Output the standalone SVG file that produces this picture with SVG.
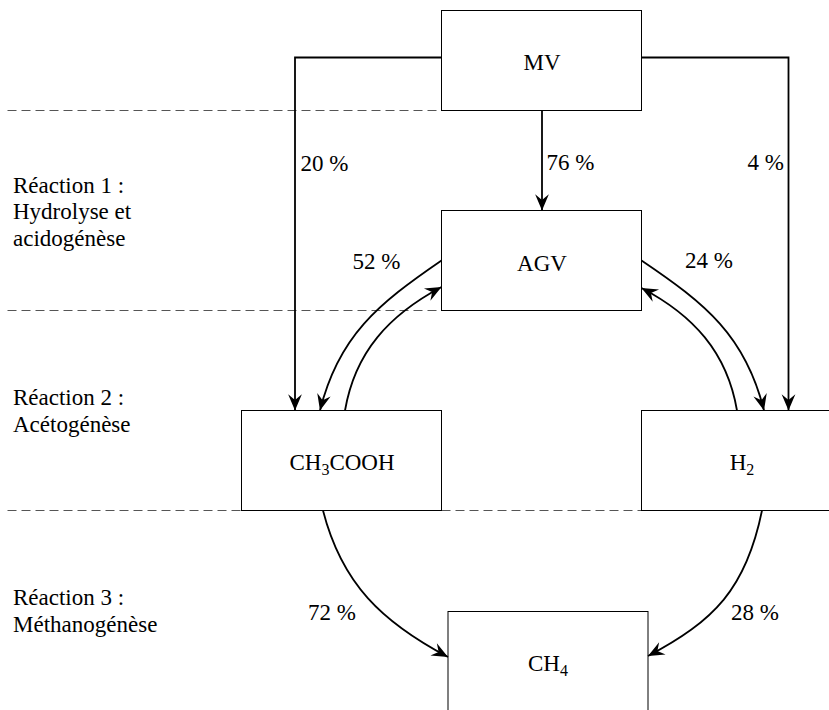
<svg xmlns="http://www.w3.org/2000/svg" width="829" height="710" viewBox="0 0 829 710">
<defs>
<marker id="ah" markerUnits="userSpaceOnUse" markerWidth="20" markerHeight="20" viewBox="-14 -7 16 14" refX="0" refY="0" orient="auto">
<path d="M0,0 L-13,-5.5 L-8.5,0 L-13,5.5 Z" fill="#000"/>
</marker>
</defs>
<style>
.box{fill:#fff;stroke:#000;stroke-width:1}
.t{font-family:"Liberation Serif","Times New Roman",serif;font-size:23px;fill:#000}
.c{text-anchor:middle}
.e{text-anchor:end}
.sub{font-size:16px}
.dash{stroke:#555;stroke-width:1;stroke-dasharray:9 5;fill:none}
.con{fill:none;stroke:#000;stroke-width:1.8;marker-end:url(#ah)}
</style>
<g id="separators">
<line class="dash" x1="7.5" y1="110.5" x2="441.5" y2="110.5"/>
<line class="dash" x1="7.5" y1="310.5" x2="441.5" y2="310.5"/>
<line class="dash" x1="7.5" y1="510.5" x2="829" y2="510.5"/>
</g>
<g id="stage-labels">
<text class="t" x="13" y="192.5">Réaction 1 :</text>
<text class="t" x="13" y="219.3">Hydrolyse et</text>
<text class="t" x="13" y="246">acidogénèse</text>
<text class="t" x="13" y="405.4">Réaction 2 :</text>
<text class="t" x="13" y="432">Acétogénèse</text>
<text class="t" x="13" y="605.3">Réaction 3 :</text>
<text class="t" x="13" y="632">Méthanogénèse</text>
</g>
<g id="node-MV">
<rect class="box" x="441.5" y="10.5" width="200" height="100"/>
<text class="t c" x="542" y="70">MV</text>
</g>
<g id="node-AGV">
<rect class="box" x="441.5" y="210.5" width="200" height="100"/>
<text class="t c" x="542" y="270.5">AGV</text>
</g>
<g id="node-CH3COOH">
<rect class="box" x="241.5" y="410.5" width="200" height="100"/>
<text class="t c" x="342" y="470">CH<tspan class="sub" dy="5">3</tspan><tspan dy="-5">COOH</tspan></text>
</g>
<g id="node-H2">
<rect class="box" x="641.5" y="410.5" width="200" height="100"/>
<text class="t c" x="742" y="470">H<tspan class="sub" dy="5">2</tspan></text>
</g>
<g id="node-CH4">
<rect class="box" x="448" y="611.5" width="200" height="100"/>
<text class="t c" x="548" y="670.5">CH<tspan class="sub" dy="5">4</tspan></text>
</g>
<g id="connectors">
<path class="con" d="M441.5,57.5 H295 V410.5"/>
<path class="con" d="M641.5,57.5 H788.5 V410.5"/>
<path class="con" d="M542,110.5 V210.5"/>
<path class="con" d="M441.5,260.5 C378,304 338.5,336 320,410.5"/>
<path class="con" d="M345,410.5 C355,352 389,315 441.5,287"/>
<path class="con" d="M641.5,260.5 C706,304 745.5,336 764,410.5"/>
<path class="con" d="M737,410.5 C727,352 693,315 641.5,288"/>
<path class="con" d="M323,510.5 C341.8,583.8 382,622 448,657"/>
<path class="con" d="M762,510.5 C746,589 714,621 648,656"/>
</g>
<g id="connector-labels">
<text class="t" x="300.5" y="170.5">20 %</text>
<text class="t" x="546.5" y="170">76 %</text>
<text class="t e" x="784" y="170">4 %</text>
<text class="t" x="352.5" y="269">52 %</text>
<text class="t" x="685" y="267.5">24 %</text>
<text class="t" x="308" y="620">72 %</text>
<text class="t" x="731" y="620">28 %</text>
</g>
</svg>
